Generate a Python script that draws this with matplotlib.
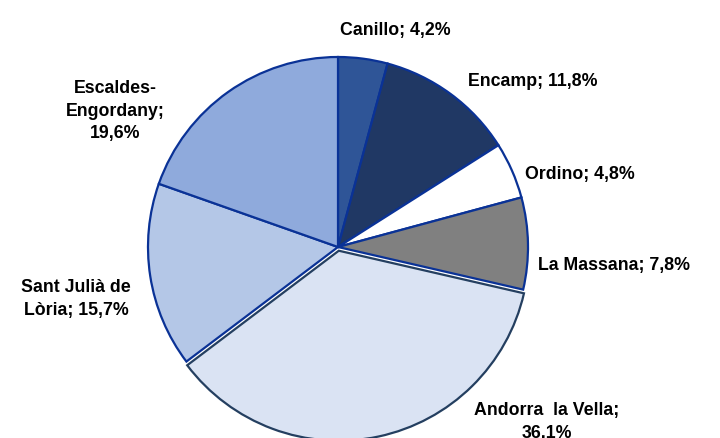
import matplotlib.pyplot as plt

# Population share by parish
parishes = ['Canillo', 'Encamp', 'Ordino', 'La Massana', 'Andorra la Vella',
            'Sant Julià de Lòria', 'Escaldes-Engordany']
shares = [4.2, 11.8, 4.8, 7.8, 36.1, 15.7, 19.6]
label_texts = ['Canillo; 4,2%', 'Encamp; 11,8%', 'Ordino; 4,8%', 'La Massana; 7,8%',
               'Andorra  la Vella;\n36,1%', 'Sant Julià de\nLòria; 15,7%',
               'Escaldes-\nEngordany;\n19,6%']

colors = ['#2F5597', '#203864', '#FFFFFF', '#808080', '#DAE3F3', '#B4C7E7', '#8FAADC']
explode = [0, 0, 0, 0, 0.02, 0, 0]
# label centres in pixels (x, y from top)
label_pos = [(395, 30), (533, 82), (580, 174), (614, 266), (547, 422), (76, 299), (115, 111)]

W, H = 720, 439
fig = plt.figure(figsize=(W / 100, H / 100), dpi=100)
cx, cy, r = 338, 248, 190
ax = fig.add_axes([(cx - r) / W, (H - cy - r) / H, 2 * r / W, 2 * r / H])

wedges, _ = ax.pie(shares, colors=colors, explode=explode, startangle=90,
                   counterclock=False, radius=1,
                   wedgeprops=dict(edgecolor='#0A3296', linewidth=1.6))
wedges[4].set_edgecolor('#243F60')
ax.set_xlim(-1, 1)
ax.set_ylim(-1, 1)
ax.set_aspect('auto')
ax.axis('off')

for txt, (x, y) in zip(label_texts, label_pos):
    fig.text(x / W, 1 - y / H, txt, ha='center', va='center', fontsize=12.8,
             fontweight='bold', family='Liberation Sans', linespacing=1.4)

fig.savefig('out.png', dpi=100)
